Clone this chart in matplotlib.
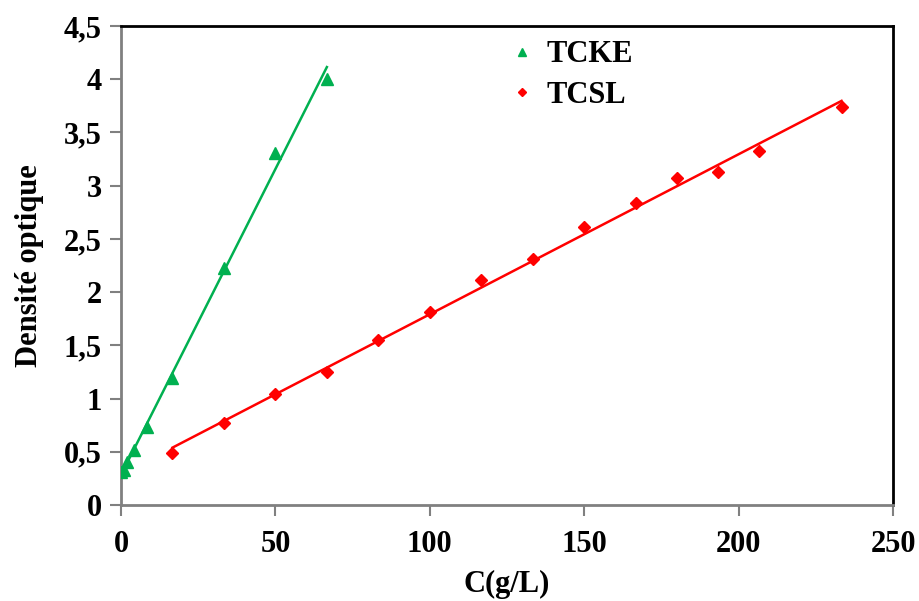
import numpy as np
import matplotlib
matplotlib.use("Agg")
import matplotlib.pyplot as plt
from matplotlib.ticker import FuncFormatter

# Calibration data: optical density vs concentration (g/L)
tcke_c = [0.0, 1.04, 2.08, 4.17, 8.33, 16.67, 33.33, 50.0, 66.67]
tcke_do = [0.31, 0.33, 0.40, 0.52, 0.73, 1.19, 2.23, 3.31, 4.00]

tcsl_c = [16.67, 33.33, 50.0, 66.67, 83.33, 100.0, 116.67, 133.33,
          150.0, 166.67, 180.0, 193.33, 206.67, 233.33]
tcsl_do = [0.49, 0.77, 1.04, 1.25, 1.55, 1.81, 2.11, 2.31,
           2.61, 2.84, 3.07, 3.13, 3.33, 3.74]

x_ticks = [0, 50, 100, 150, 200, 250]
y_ticks = [0, 0.5, 1, 1.5, 2, 2.5, 3, 3.5, 4, 4.5]

GREEN = "#00B050"
RED = "#FF0000"

plt.rcParams["font.family"] = ["Liberation Serif", "DejaVu Serif"]
plt.rcParams["font.weight"] = "bold"

fig = plt.figure(figsize=(9.2, 6.01), dpi=100)
ax = fig.add_axes([0.1315, 0.1597, 0.8392, 0.797])

# Linear trendlines over each data range
for c, d, col in ((tcke_c, tcke_do, GREEN), (tcsl_c, tcsl_do, RED)):
    c = np.asarray(c)
    slope, icpt = np.polyfit(c, d, 1)
    xs = np.array([c.min(), c.max()])
    ax.plot(xs, slope * xs + icpt, color=col, lw=1.8, zorder=2)

ax.plot(tcke_c, tcke_do, linestyle="none", marker="^", ms=9, color=GREEN,
        label="TCKE", zorder=3)
ax.plot(tcsl_c, tcsl_do, linestyle="none", marker="D", ms=6.5, color=RED,
        label="TCSL", zorder=3)

ax.set_xlim(0, 250)
ax.set_ylim(0, 4.5)
ax.set_xticks(x_ticks)
ax.set_yticks(y_ticks)
ax.yaxis.set_major_formatter(FuncFormatter(lambda v, p: f"{v:g}".replace(".", ",")))

for side in ("left", "bottom"):
    ax.spines[side].set_color("#808080")
    ax.spines[side].set_linewidth(2)
for side in ("top", "right"):
    ax.spines[side].set_color("black")
    ax.spines[side].set_linewidth(2)

ax.tick_params(axis="both", direction="out", length=8, width=1.5, color="#808080",
               labelsize=22, pad=6)
ax.tick_params(axis="x", pad=10)
for lab in ax.get_xticklabels() + ax.get_yticklabels():
    lab.set_fontweight("bold")

ax.set_xlabel("C(g/L)", fontsize=22, fontweight="bold", labelpad=8)
ax.set_ylabel("Densité optique", fontsize=22, fontweight="bold", labelpad=14)

leg = ax.legend(loc="upper left", bbox_to_anchor=(0.48, 1.015), frameon=False,
                fontsize=22, markerscale=0.6, handlelength=0.6,
                handletextpad=0.5, labelspacing=0.38, borderaxespad=0.3)
for t in leg.get_texts():
    t.set_fontweight("bold")

fig.savefig("out.png", dpi=100)
